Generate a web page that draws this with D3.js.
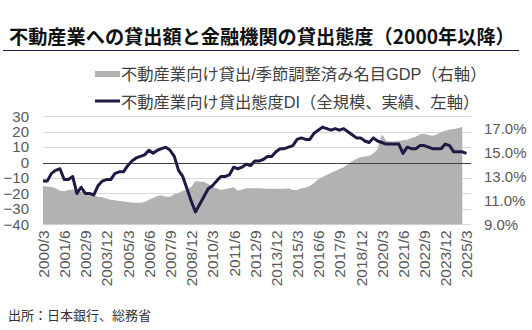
<!DOCTYPE html>
<html>
<head>
<meta charset="utf-8">
<script src="https://cdn.jsdelivr.net/npm/d3@7/dist/d3.min.js"></script>
<style>
  body { margin: 0; background: #fff; }
  text { font-family: "Liberation Sans", Arial, "Noto Sans CJK JP", sans-serif; }
  .jp { font-family: "Noto Sans CJK JP", sans-serif; }
  .mix { font-family: "Liberation Sans", Arial, "Noto Sans CJK JP", sans-serif; }
</style>
</head>
<body>
<svg id="chart" width="532" height="330"></svg>
<script>
// quarters 2000/3 .. 2025/3
const quarters = [];
for (let y = 2000; y <= 2025; y++) {
  [3, 6, 9, 12].forEach(m => { if (!(y === 2025 && m > 3)) quarters.push(y + "/" + m); });
}
const tickLabels = ["2000/3","2001/6","2002/9","2003/12","2005/3","2006/6","2007/9","2008/12",
  "2010/3","2011/6","2012/9","2013/12","2015/3","2016/6","2017/9","2018/12",
  "2020/3","2021/6","2022/9","2023/12","2025/3"];

// 貸出態度DI (left axis), 2000/3 .. 2025/3
const diValues = [
  -12,-12,-7,-5,-4,-11,-11,-9,-20,-16,
  -20,-20,-21,-15,-12,-11,-11,-7,-6,-6,
  -2,1,3,4,5,8,6,8,9,10,
  8,4,-5,-9,-17,-25,-32,-27,-22,-17,
  -15,-12,-9,-9,-8,-3,-4,-3,-1,-2,
  1,1,2,4,4,7,9,9,10,11,
  15,16,15,15,19,21,23,22,21,22,
  21,22,20,18,16,16,14,13,16,14,
  13,12,12,12,12,6,10,9,9,11,
  11,10,9,9,9,12,11,7,7,7,6
];
// 貸出/名目GDP % (right axis), 2000/3 .. 2024/12
const ratioValues = [
  12.2,12.15,12.1,12.0,11.8,11.75,11.85,11.9,11.75,11.72,
  11.7,11.55,11.4,11.3,11.25,11.15,11.05,11.0,10.95,10.9,
  10.85,10.82,10.8,10.8,10.85,11.05,11.2,11.35,11.42,11.3,
  11.3,11.5,11.6,11.8,11.9,12.1,12.6,12.55,12.55,12.35,
  12.1,12.0,11.85,11.95,12.0,12.08,11.8,11.9,12.0,12.0,
  12.0,12.0,11.98,11.97,11.97,11.97,11.97,11.97,12.0,11.85,
  11.85,12.0,12.05,12.19,12.45,12.75,12.95,13.1,13.3,13.45,
  13.6,13.75,14.0,14.25,14.45,14.6,14.65,14.7,14.9,15.25,
  16.5,15.97,15.92,15.9,15.95,16.0,16.05,16.2,16.3,16.5,
  16.55,16.45,16.38,16.5,16.7,16.8,16.9,16.95,17.0,17.12
];
const leftTicks = [-40,-30,-20,-10,0,10,20,30];
const rightTicks = [9,11,13,15,17];

const svg = d3.select("#chart");
const plotTop = 116.3, plotBottom = 224.3, plotLeft = 43, plotRight = 471;

const x = d3.scalePoint().domain(quarters).range([plotLeft, 466.5]);
const yL = d3.scaleLinear().domain([-40, 30]).range([plotBottom, plotTop]);
const yR = d3.scaleLinear().domain([9, 18]).range([plotBottom, plotTop]);

// title
svg.append("text").attr("class", "jp")
  .attr("x", 9).attr("y", 44)
  .attr("font-size", 19.2).attr("font-weight", "bold").attr("fill", "#111")
  .text("不動産業への貸出額と金融機関の貸出態度（2000年以降）");
svg.append("line").attr("x1", 3).attr("x2", 519).attr("y1", 50.5).attr("y2", 50.5)
  .attr("stroke", "#1d1a44").attr("stroke-width", 1.2);

// legend
const lg = svg.append("g");
lg.append("rect").attr("x", 95).attr("y", 71).attr("width", 25).attr("height", 6).attr("fill", "#b2b2b2");
lg.append("text").attr("class", "mix").attr("x", 121).attr("y", 79.5)
  .attr("font-size", 16.3).attr("fill", "#404040")
  .text("不動産業向け貸出/季節調整済み名目GDP（右軸）");
lg.append("line").attr("x1", 95).attr("x2", 120).attr("y1", 101).attr("y2", 101)
  .attr("stroke", "#1d1a44").attr("stroke-width", 3);
lg.append("text").attr("class", "mix").attr("x", 121).attr("y", 107.5)
  .attr("font-size", 16.3).attr("fill", "#404040")
  .text("不動産業向け貸出態度DI（全規模、実績、左軸）");

// gridlines
svg.append("g").selectAll("line").data(leftTicks.filter(d => d !== 0)).join("line")
  .attr("x1", plotLeft).attr("x2", plotRight)
  .attr("y1", d => Math.round(yL(d)) + 0.5).attr("y2", d => Math.round(yL(d)) + 0.5)
  .attr("stroke", "#d9d9d9");

// area
const area = d3.area()
  .x((d, i) => x(quarters[i]))
  .y0(plotBottom)
  .y1(d => yR(d));
svg.append("path").datum(ratioValues).attr("d", area).attr("fill", "#b2b2b2");

// zero line
svg.append("line").attr("x1", plotLeft).attr("x2", plotRight)
  .attr("y1", Math.round(yL(0)) + 0.5).attr("y2", Math.round(yL(0)) + 0.5)
  .attr("stroke", "#404040").attr("stroke-width", 1);

// DI line
const line = d3.line()
  .x((d, i) => x(quarters[i]))
  .y(d => yL(d));
svg.append("path").datum(diValues).attr("d", line)
  .attr("fill", "none").attr("stroke", "#1d1a44").attr("stroke-width", 3)
  .attr("stroke-linejoin", "round");

// left axis
const axL = svg.append("g").attr("transform", `translate(${plotLeft},0)`)
  .call(d3.axisLeft(yL).tickValues(leftTicks).tickSize(0).tickPadding(14));
axL.select(".domain").remove();
axL.selectAll("text").attr("font-size", 15).attr("fill", "#595959")
  .attr("font-family", "Liberation Sans, Arial, sans-serif");

// right axis
const axR = svg.append("g").attr("transform", `translate(${plotRight},0)`)
  .call(d3.axisRight(yR).tickValues(rightTicks).tickSize(0).tickPadding(13)
    .tickFormat(d => d.toFixed(1) + "%"));
axR.select(".domain").remove();
axR.selectAll("text").attr("font-size", 15).attr("fill", "#595959")
  .attr("font-family", "Liberation Sans, Arial, sans-serif");

// x axis
const axX = svg.append("g").attr("transform", `translate(0,${plotBottom})`)
  .call(d3.axisBottom(x).tickValues(tickLabels).tickSize(0));
axX.select(".domain").remove();
axX.selectAll("text")
  .attr("font-size", 15.5).attr("fill", "#595959")
  .attr("font-family", "Liberation Sans, Arial, sans-serif")
  .attr("transform", "rotate(-90)")
  .attr("text-anchor", "end")
  .attr("dy", "0.35em")
  .attr("x", -6).attr("y", 0);

// source
svg.append("text").attr("class", "jp").attr("x", 8).attr("y", 320)
  .attr("font-size", 13).attr("fill", "#333")
  .text("出所：日本銀行、総務省");
</script>
</body>
</html>
